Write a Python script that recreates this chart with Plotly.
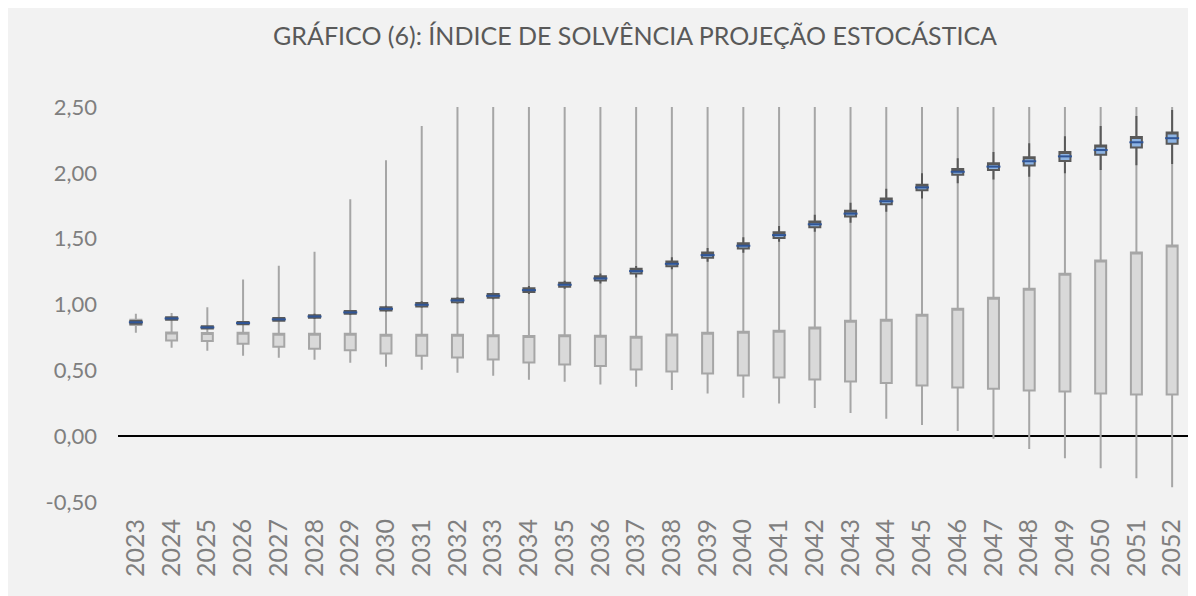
import plotly.graph_objects as go

years = [str(y) for y in range(2023, 2053)]

# Gray series (wide distribution)
gray_high = [0.93, 0.935, 0.98, 1.19, 1.295, 1.40, 1.80, 2.095, 2.355, 2.5,
             2.5, 2.5, 2.5, 2.5, 2.5, 2.5, 2.5, 2.5, 2.5, 2.5,
             2.5, 2.5, 2.5, 2.5, 2.5, 2.5, 2.5, 2.5, 2.5, 2.5]
gray_q3 = [0.885, 0.788, 0.783, 0.785, 0.777, 0.777, 0.777, 0.770, 0.770, 0.770,
           0.767, 0.760, 0.767, 0.762, 0.755, 0.772, 0.785, 0.793, 0.800, 0.826,
           0.876, 0.884, 0.922, 0.967, 1.051, 1.119, 1.233, 1.335, 1.395, 1.449]
gray_q1 = [0.845, 0.727, 0.722, 0.701, 0.679, 0.663, 0.653, 0.628, 0.611, 0.598,
           0.583, 0.560, 0.545, 0.532, 0.507, 0.491, 0.476, 0.461, 0.446, 0.431,
           0.416, 0.403, 0.385, 0.370, 0.360, 0.347, 0.340, 0.324, 0.317, 0.317]
gray_low = [0.785, 0.671, 0.648, 0.610, 0.595, 0.580, 0.557, 0.527, 0.504, 0.481,
            0.458, 0.428, 0.413, 0.393, 0.375, 0.350, 0.324, 0.291, 0.248, 0.213,
            0.175, 0.132, 0.084, 0.040, -0.020, -0.097, -0.167, -0.243, -0.320, -0.388]

# Blue series (narrow distribution)
blue_high = [0.875, 0.910, 0.840, 0.870, 0.905, 0.930, 0.955, 0.990, 1.025, 1.055,
             1.090, 1.140, 1.180, 1.236, 1.292, 1.358, 1.429, 1.510, 1.596, 1.682,
             1.773, 1.880, 1.996, 2.110, 2.158, 2.224, 2.277, 2.356, 2.432, 2.477]
blue_q3 = [0.875, 0.903, 0.835, 0.868, 0.897, 0.919, 0.951, 0.979, 1.011, 1.044,
           1.080, 1.124, 1.165, 1.214, 1.272, 1.327, 1.394, 1.466, 1.548, 1.631,
           1.712, 1.806, 1.910, 2.030, 2.072, 2.118, 2.158, 2.208, 2.272, 2.307]
blue_med = [0.865, 0.894, 0.826, 0.859, 0.887, 0.909, 0.940, 0.967, 0.998, 1.031,
            1.066, 1.109, 1.150, 1.198, 1.254, 1.309, 1.375, 1.446, 1.527, 1.609,
            1.690, 1.784, 1.889, 2.008, 2.047, 2.088, 2.125, 2.173, 2.232, 2.263]
blue_q1 = [0.853, 0.885, 0.817, 0.850, 0.877, 0.899, 0.929, 0.955, 0.985, 1.018,
           1.052, 1.094, 1.135, 1.182, 1.236, 1.291, 1.356, 1.426, 1.506, 1.587,
           1.668, 1.762, 1.868, 1.985, 2.022, 2.056, 2.090, 2.138, 2.192, 2.220]
blue_low = [0.853, 0.880, 0.810, 0.845, 0.870, 0.890, 0.920, 0.945, 0.975, 1.005,
            1.040, 1.080, 1.120, 1.160, 1.206, 1.267, 1.325, 1.393, 1.477, 1.553,
            1.621, 1.705, 1.806, 1.920, 1.950, 1.970, 1.996, 2.021, 2.057, 2.067]

y_tickvals = [-0.5, 0.0, 0.5, 1.0, 1.5, 2.0, 2.5]
y_ticktext = ["-0,50", "0,00", "0,50", "1,00", "1,50", "2,00", "2,50"]

title_text = "GRÁFICO (6): ÍNDICE DE SOLVÊNCIA PROJEÇÃO ESTOCÁSTICA"

GRAY_LINE = "#A6A6A6"
GRAY_FILL = "#D9D9D9"
BLUE_LINE = "#595959"
BLUE_FILL = "#8EB4E3"
MED_COLOR = "#2F5597"
TXT = "#7F7F7F"

fig = go.Figure()

fig.add_trace(go.Candlestick(
    x=years, open=gray_q1, close=gray_q3, high=gray_high, low=gray_low,
    increasing=dict(line=dict(color=GRAY_LINE, width=2), fillcolor=GRAY_FILL),
    decreasing=dict(line=dict(color=GRAY_LINE, width=2), fillcolor=GRAY_FILL),
    whiskerwidth=0, showlegend=False, hoverinfo="skip",
))

fig.add_trace(go.Candlestick(
    x=years, open=blue_q1, close=blue_q3, high=blue_high, low=blue_low,
    increasing=dict(line=dict(color=BLUE_LINE, width=2), fillcolor=BLUE_FILL),
    decreasing=dict(line=dict(color=BLUE_LINE, width=2), fillcolor=BLUE_FILL),
    whiskerwidth=0, showlegend=False, hoverinfo="skip",
))

fig.add_trace(go.Scatter(
    x=years, y=blue_med, mode="markers",
    marker=dict(symbol="line-ew", size=10, line=dict(color=MED_COLOR, width=2)),
    showlegend=False, hoverinfo="skip",
))

fig.update_layout(
    width=1196, height=596,
    paper_bgcolor="#F2F2F2", plot_bgcolor="#F2F2F2",
    margin=dict(l=110, r=14, t=99, b=102, autoexpand=False),
    boxmode="overlay", boxgap=0.56,
    font=dict(family="Lato, sans-serif", color=TXT),
    title=dict(text=title_text, x=0.5243, xanchor="center", y=0.952, yanchor="middle",
               font=dict(size=25, color="#595959", family="Lato, sans-serif")),
    xaxis=dict(
        type="category", rangeslider=dict(visible=False), automargin=False,
        range=[-0.5, 29.5],
        tickangle=-90, tickfont=dict(size=25, color=TXT),
        showgrid=False, showline=False, zeroline=False,
        ticks="outside", ticklen=6, tickcolor="rgba(0,0,0,0)",
    ),
    yaxis=dict(
        range=[-0.5, 2.5], tickvals=y_tickvals, ticktext=y_ticktext, automargin=False,
        tickfont=dict(size=22, color=TXT),
        showgrid=False, showline=False,
        zeroline=True, zerolinecolor="#000000", zerolinewidth=2,
        layer="above traces", ticklabelstandoff=20,
    ),
)

fig.write_html("out.html")
